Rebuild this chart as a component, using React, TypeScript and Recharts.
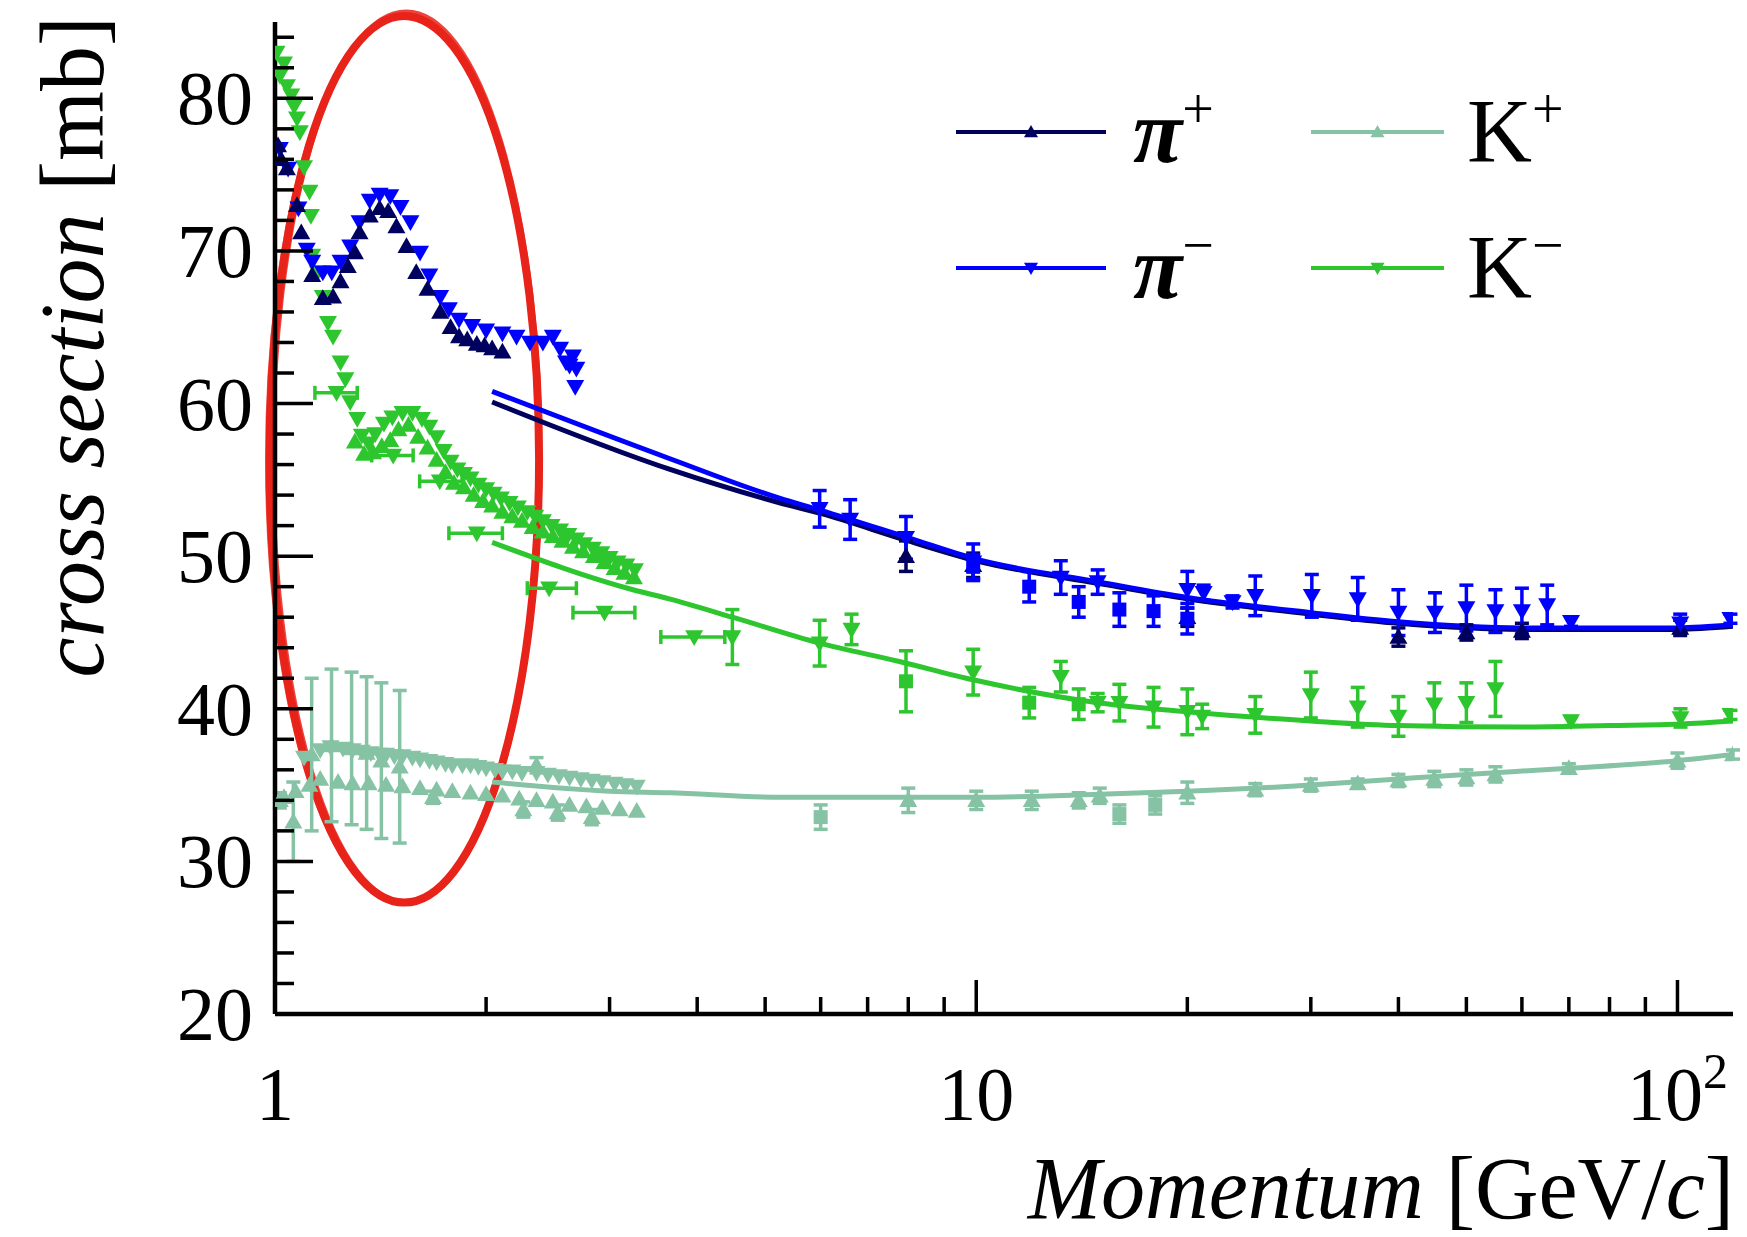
import React from "react";
import {
  ComposedChart,
  Line,
  Scatter,
  ErrorBar,
  XAxis,
  YAxis,
  ReferenceArea,
  Legend,
  Label,
} from "recharts";

const SERIF = '"Liberation Serif", "Times New Roman", serif';

const PI_PLUS = "#00005e";
const PI_MINUS = "#0000ff";
const K_PLUS = "#86c3a5";
const K_MINUS = "#2ec62e";

// axis ticks
const xTicks = [1, 2, 3, 4, 5, 6, 7, 8, 9, 10, 20, 30, 40, 50, 60, 70, 80, 90, 100];
const yTicks = [20, 22, 24, 26, 28, 30, 32, 34, 36, 38, 40, 42, 44, 46, 48, 50, 52, 54, 56, 58, 60, 62, 64, 66, 68, 70, 72, 74, 76, 78, 80, 82, 84];
const xMajor = [1, 10, 100];

// legend
const legendBase = ["π", "π", "K", "K"];
const legendSup = ["+", "−", "+", "−"];

// ---- pi+ ----
const piPlusLow = [
  [1.01, 76.9], [1.02, 76.0], [1.04, 75.4], [1.075, 73.0], [1.09, 71.2], [1.13, 68.4],
  [1.17, 66.9], [1.21, 67.0], [1.24, 68.0], [1.27, 69.0], [1.3, 69.9], [1.32, 71.2],
  [1.365, 72.3], [1.41, 72.8], [1.45, 72.6], [1.49, 71.6], [1.54, 70.3], [1.59, 68.6],
  [1.65, 67.5], [1.72, 66.0], [1.78, 65.0], [1.83, 64.4], [1.88, 64.2], [1.94, 63.9],
  [1.99, 63.8], [2.04, 63.6], [2.11, 63.4],
];
const piPlusHigh = [
  [7.94, 50.0, 1.0], [9.9, 49.4, 0.8], [20.0, 46.0, 0.6], [40.0, 44.7, 0.6],
  [50.0, 45.0, 0.5], [60.0, 45.1, 0.5], [100.9, 45.3, 0.5],
];
const piPlusFit = [
  [2.04, 60.1], [3.65, 55.7], [5.24, 53.5], [6.0, 52.8], [8.0, 51.0], [10.0, 49.7],
  [15.0, 48.2], [20.0, 47.2], [30.0, 46.2], [40.0, 45.6], [60.0, 45.2], [100.0, 45.2], [120.0, 45.4],
];

// ---- pi- ----
const piMinusLow = [
  [1.016, 76.7], [1.044, 75.4], [1.08, 72.8], [1.11, 70.1], [1.13, 69.3], [1.17, 68.6],
  [1.205, 68.6], [1.24, 69.3], [1.28, 70.3], [1.32, 71.9], [1.365, 73.3], [1.41, 73.7],
  [1.46, 73.6], [1.51, 72.9], [1.56, 71.9], [1.61, 69.9], [1.66, 68.4], [1.72, 67.0],
  [1.77, 66.2], [1.83, 65.5], [1.91, 65.1], [2.0, 64.8], [2.11, 64.6], [2.21, 64.4],
  [2.31, 64.0], [2.41, 64.0], [2.49, 64.4], [2.55, 63.6], [2.6, 62.7], [2.63, 62.5],
  [2.66, 63.1], [2.68, 61.1], [2.69, 62.3],
];
const piMinusHigh = [
  [5.98, 53.1, 1.2], [6.61, 52.4, 1.3], [7.94, 51.2, 1.4], [9.9, 49.6, 1.2], [13.2, 48.6, 1.1],
  [14.9, 48.3, 0.8], [20.0, 47.8, 1.2], [21.1, 47.6, 0.5], [23.2, 47.0, 0.4], [25.0, 47.4, 1.3],
  [30.1, 47.4, 1.4], [35.0, 47.2, 1.4], [40.0, 46.3, 1.5], [45.1, 46.3, 1.3], [50.0, 46.6, 1.5],
  [55.0, 46.4, 1.4], [60.0, 46.4, 1.5], [65.2, 46.8, 1.3], [70.5, 45.7, 0.3], [100.9, 45.6, 0.6],
  [119.0, 45.9, 0.3],
];
const piMinusSquares = [
  [9.9, 49.3, 0.8], [11.9, 48.0, 1.0], [14.0, 47.0, 1.0], [16.0, 46.5, 1.1], [17.9, 46.4, 1.0],
  [20.0, 45.9, 1.0],
];
const piMinusFit = [
  [2.04, 60.8], [3.65, 56.4], [5.24, 53.8], [6.0, 53.0], [8.0, 51.2], [10.0, 49.8],
  [15.0, 48.3], [20.0, 47.3], [30.0, 46.3], [40.0, 45.7], [60.0, 45.3], [100.0, 45.3], [120.0, 45.5],
];

// ---- K+ ----
const kPlusUpper = [
  [1.1, 36.8], [1.16, 37.3], [1.2, 37.5], [1.25, 37.4], [1.29, 37.3], [1.33, 37.2], [1.37, 37.1],
  [1.41, 37.0], [1.44, 37.0], [1.48, 36.9], [1.52, 36.9], [1.57, 36.8], [1.61, 36.7], [1.66, 36.6],
  [1.7, 36.5], [1.75, 36.4], [1.79, 36.3], [1.85, 36.3], [1.9, 36.3], [1.95, 36.2], [2.0, 36.1],
  [2.06, 36.0], [2.11, 35.9], [2.18, 35.9], [2.25, 35.8], [2.36, 35.8], [2.45, 35.7], [2.54, 35.6],
  [2.63, 35.5], [2.73, 35.4], [2.83, 35.3], [2.93, 35.2], [3.05, 35.1], [3.16, 35.0], [3.28, 34.9],
];
const kPlusLower = [
  [1.03, 34.2], [1.07, 34.6], [1.12, 35.0], [1.16, 35.4], [1.23, 35.2], [1.29, 35.1], [1.36, 35.1],
  [1.44, 35.0], [1.52, 34.9], [1.61, 34.8], [1.7, 34.7], [1.79, 34.6], [1.9, 34.5], [2.0, 34.4],
  [2.11, 34.3], [2.23, 34.1], [2.36, 34.0], [2.49, 33.9], [2.63, 33.7], [2.78, 33.6], [2.93, 33.5],
  [3.1, 33.4], [3.28, 33.3],
];
const kPlusErr = [
  [1.016, 34.0, 0.5], [1.062, 32.6, 2.6], [1.128, 37.0, 5.0], [1.204, 37.6, 5.0], [1.286, 37.4, 5.0],
  [1.351, 37.1, 5.0], [1.418, 36.6, 5.1], [1.506, 36.2, 5.0], [1.68, 34.2, 0.4], [2.26, 33.4, 0.5],
  [2.36, 36.3, 0.5], [2.53, 33.2, 0.5], [2.83, 32.9, 0.5],
];
const kPlusHigh = [
  [8.0, 34.0, 0.8], [10.0, 34.0, 0.6], [12.0, 34.0, 0.6], [14.0, 34.0, 0.5], [15.0, 34.3, 0.5],
  [20.0, 34.5, 0.7], [25.0, 34.7, 0.4], [30.0, 35.0, 0.4], [35.0, 35.1, 0.3], [40.0, 35.3, 0.4],
  [45.0, 35.4, 0.5], [50.0, 35.5, 0.5], [55.0, 35.7, 0.5], [70.0, 36.1, 0.3], [100.0, 36.6, 0.5],
  [120.0, 37.0, 0.3],
];
const kPlusSquares = [[6.0, 32.9, 0.8], [16.0, 33.1, 0.6], [18.0, 33.7, 0.6]];
const kPlusFit = [
  [2.04, 35.2], [3.0, 34.6], [3.65, 34.5], [5.24, 34.2], [10.0, 34.2], [15.0, 34.4], [20.0, 34.6],
  [30.0, 35.0], [40.0, 35.4], [50.0, 35.7], [70.0, 36.1], [100.0, 36.6], [120.0, 37.0],
];

// ---- K- ----
const kMinusUpper = [
  [1.005, 83.0], [1.016, 81.5], [1.03, 82.3], [1.04, 80.8], [1.055, 80.2], [1.065, 79.5],
  [1.075, 78.7], [1.085, 77.8], [1.1, 75.5], [1.12, 73.9], [1.125, 72.3], [1.13, 69.7],
  [1.15, 68.6], [1.17, 67.0], [1.19, 65.3], [1.21, 64.4], [1.24, 62.7], [1.26, 61.6],
  [1.28, 60.1], [1.31, 59.0], [1.33, 57.9], [1.36, 57.4], [1.39, 58.0], [1.43, 58.7],
  [1.47, 59.1], [1.52, 59.4], [1.57, 59.4], [1.62, 59.0], [1.66, 58.5], [1.7, 57.8],
  [1.74, 56.9], [1.78, 56.2], [1.82, 55.7], [1.86, 55.4], [1.9, 55.1], [1.95, 54.7],
  [2.0, 54.4], [2.05, 54.1], [2.1, 53.8], [2.16, 53.5], [2.22, 53.2], [2.29, 52.9],
  [2.35, 52.6], [2.41, 52.3], [2.48, 52.0], [2.55, 51.7], [2.62, 51.4], [2.69, 51.1],
  [2.76, 50.8], [2.84, 50.5], [2.92, 50.2], [3.0, 49.9], [3.08, 49.6], [3.17, 49.4], [3.26, 49.1],
];
const kMinusLower = [
  [1.3, 57.5], [1.34, 56.7], [1.38, 56.8], [1.42, 57.2], [1.46, 57.6], [1.5, 58.3], [1.55, 58.6],
  [1.6, 57.8], [1.65, 57.1], [1.7, 56.3], [1.75, 55.5], [1.8, 54.8], [1.86, 54.5], [1.92, 54.0],
  [1.98, 53.6], [2.04, 53.3], [2.11, 52.9], [2.18, 52.6], [2.25, 52.3], [2.33, 51.9], [2.41, 51.6],
  [2.49, 51.3], [2.57, 51.0], [2.66, 50.6], [2.75, 50.3], [2.85, 50.0], [2.95, 49.6], [3.05, 49.2],
  [3.15, 48.9], [3.25, 48.6],
];
// points with momentum bins: p, mb, left width, right width
const kMinusBins = [
  [1.224, 60.7, 0.084, 0.086], [1.474, 56.6, 0.1, 0.1], [1.718, 54.9, 0.11, 0.13],
  [1.94, 51.5, 0.17, 0.17], [2.46, 47.9, 0.17, 0.23], [2.95, 46.3, 0.29, 0.31], [3.96, 44.7, 0.41, 0.42],
];
const kMinusHigh = [
  [4.49, 44.7, 1.8], [5.98, 44.3, 1.5], [6.64, 45.2, 1.0], [9.9, 42.4, 1.5], [13.2, 42.1, 1.0],
  [14.9, 40.4, 0.6], [16.0, 40.4, 1.2], [17.9, 40.1, 1.3], [20.0, 39.8, 1.5], [21.0, 39.5, 0.8],
  [25.0, 39.6, 1.2], [30.0, 40.9, 1.5], [35.0, 40.1, 1.3], [40.0, 39.5, 1.3], [45.0, 40.3, 1.4],
  [50.0, 40.4, 1.3], [55.0, 41.3, 1.8], [70.5, 39.2, 0.3], [101.0, 39.4, 0.6], [119.0, 39.6, 0.3],
];
const kMinusSquares = [[7.94, 41.8, 2.0], [11.9, 40.4, 1.0], [14.0, 40.3, 1.0]];
const kMinusFit = [
  [2.04, 50.9], [3.24, 47.8], [3.65, 47.2], [4.49, 46.0], [5.98, 44.3], [7.77, 43.1], [9.9, 41.9],
  [14.9, 40.4], [20.0, 39.8], [30.0, 39.2], [40.0, 38.9], [60.0, 38.8], [80.0, 38.9], [101.0, 39.0],
  [120.0, 39.2],
];

// highlighted region (hand-drawn ring)
const ringP = [0.982, 2.38];
const ringMb = [27.3, 85.4];

const pts = (rows: number[][]) => rows.map((r) => ({ p: r[0], y: r[1], e: r[2] }));
const binPts = (rows: number[][]) => rows.map((r) => ({ p: r[0], y: r[1], ex: [r[2], r[3]] }));

const Tri = (color: string, up: boolean, s = 9) => (props: any) => {
  const { cx, cy } = props;
  if (cx == null || cy == null) return null;
  const pts = up
    ? `${cx},${cy - s} ${cx - s},${cy + s * 0.75} ${cx + s},${cy + s * 0.75}`
    : `${cx},${cy + s} ${cx - s},${cy - s * 0.75} ${cx + s},${cy - s * 0.75}`;
  return <polygon points={pts} fill={color} />;
};
const Sq = (color: string, s = 7) => (props: any) => {
  const { cx, cy } = props;
  if (cx == null || cy == null) return null;
  return <rect x={cx - s} y={cy - s} width={2 * s} height={2 * s} fill={color} />;
};

const LeftTick = (props: any) => {
  const { x, y, payload } = props;
  const v = payload.value;
  const major = v % 10 === 0;
  return (
    <g>
      <line x1={x} x2={x + (major ? 38 : 19)} y1={y} y2={y} stroke="#000" strokeWidth={3.5} />
      {major && (
        <text x={x - 22} y={y + 26} textAnchor="end" fontFamily={SERIF} fontSize={76} fill="#000">
          {v}
        </text>
      )}
    </g>
  );
};
const RightTick = (props: any) => {
  const { x, y, payload } = props;
  const major = payload.value % 10 === 0;
  return <line x1={x} x2={x - (major ? 38 : 19)} y1={y} y2={y} stroke="#000" strokeWidth={3.5} />;
};
const BottomTick = (props: any) => {
  const { x, y, payload } = props;
  const v = payload.value;
  const major = xMajor.includes(v);
  return (
    <g>
      <line x1={x} x2={x} y1={y} y2={y - (major ? 34 : 17)} stroke="#000" strokeWidth={3.5} />
      {major && (
        <text x={x} y={y + 106} textAnchor="middle" fontFamily={SERIF} fontSize={76} fill="#000">
          {v === 100 ? (
            <>
              10
              <tspan fontSize={50} dy={-32}>2</tspan>
            </>
          ) : (
            v
          )}
        </text>
      )}
    </g>
  );
};
const TopTick = (props: any) => {
  const { x, y, payload } = props;
  const major = xMajor.includes(payload.value);
  return <line x1={x} x2={x} y1={y} y2={y + (major ? 34 : 17)} stroke="#000" strokeWidth={3.5} />;
};

const XTitle = (props: any) => {
  const vb = props.viewBox;
  return (
    <text x={vb.x + vb.width + 1} y={vb.y + 204} textAnchor="end" fontFamily={SERIF} fontSize={88} fill="#000">
      <tspan fontStyle="italic">Momentum</tspan>
      <tspan> [GeV/</tspan>
      <tspan fontStyle="italic">c</tspan>
      <tspan>]</tspan>
    </text>
  );
};
const YTitle = (props: any) => {
  const vb = props.viewBox;
  const x = vb.x + 28;
  const y = vb.y - 6;
  return (
    <text x={x} y={y} transform={`rotate(-90 ${x} ${y})`} textAnchor="end" fontFamily={SERIF} fontSize={90} fill="#000">
      <tspan fontStyle="italic">cross section</tspan>
      <tspan> [mb]</tspan>
    </text>
  );
};

const legendColors = [PI_PLUS, PI_MINUS, K_PLUS, K_MINUS];
const LegendBox = () => {
  const colX = [956, 1311];
  const lineLen = [150, 133];
  const textX = [1133, 1467];
  const rowY = [132, 268];
  return (
    <svg width={1747} height={330} style={{ display: "block" }}>
      {legendBase.map((b, i) => {
        const c = Math.floor(i / 2);
        const r = i % 2;
        const y = rowY[r];
        const x0 = colX[c];
        const mid = x0 + lineLen[c] / 2;
        const up = r === 0;
        const s = 7;
        const tri = up
          ? `${mid},${y - s} ${mid - s},${y + s * 0.75} ${mid + s},${y + s * 0.75}`
          : `${mid},${y + s} ${mid - s},${y - s * 0.75} ${mid + s},${y - s * 0.75}`;
        return (
          <g key={i}>
            <line x1={x0} x2={x0 + lineLen[c]} y1={y} y2={y} stroke={legendColors[i]} strokeWidth={4} />
            <polygon points={tri} fill={legendColors[i]} />
            <text
              x={textX[c]}
              y={y + 30}
              fontFamily={SERIF}
              fontSize={90}
              fill="#000"
              fontStyle={b === "π" ? "italic" : "normal"}
              fontWeight={b === "π" ? 700 : 400}
            >
              {b}
              <tspan fontSize={56} dy={-34} fontStyle="normal" fontWeight={400}>{legendSup[i]}</tspan>
            </text>
          </g>
        );
      })}
    </svg>
  );
};

const RedRing = (props: any) => {
  const { x, y, width, height } = props;
  const cx = x + width / 2;
  const cy = y + height / 2;
  return (
    <g fill="none" stroke="#e8231a">
      <ellipse cx={cx} cy={cy} rx={width / 2} ry={height / 2} strokeWidth={8} />
      <ellipse cx={cx + 2} cy={cy - 2} rx={width / 2 - 1} ry={height / 2 + 2} strokeWidth={5} opacity={0.85} />
      <ellipse cx={cx - 2} cy={cy + 1} rx={width / 2 + 1} ry={height / 2 - 1} strokeWidth={3} opacity={0.7} />
    </g>
  );
};

const errProps = { strokeWidth: 3.5, width: 7 };

const App: React.FC = () => {
  return (
    <div style={{ position: "absolute", left: 0, top: 0, width: 1747, height: 1237, background: "#fff", overflow: "hidden" }}>
      <ComposedChart width={1747} height={1237} margin={{ top: 22, right: 14, bottom: 23, left: 75 }}>
        <XAxis
          dataKey="p"
          type="number"
          scale="log"
          domain={[1, 120]}
          allowDataOverflow
          ticks={xTicks}
          interval={0}
          tickSize={0}
          tickMargin={0}
          tickLine={false}
          tick={<BottomTick />}
          axisLine={{ stroke: "#000", strokeWidth: 4.5 }}
          height={200}
        >
          <Label content={<XTitle />} />
        </XAxis>
        <XAxis
          xAxisId="top"
          orientation="top"
          type="number"
          scale="log"
          domain={[1, 120]}
          allowDataOverflow
          ticks={xTicks}
          interval={0}
          tickSize={0}
          tickMargin={0}
          tickLine={false}
          tick={<TopTick />}
          axisLine={{ stroke: "#000", strokeWidth: 4 }}
          height={0}
        />
        <YAxis
          type="number"
          domain={[20, 85]}
          allowDataOverflow
          ticks={yTicks}
          interval={0}
          tickSize={0}
          tickMargin={0}
          tickLine={false}
          tick={<LeftTick />}
          axisLine={{ stroke: "#000", strokeWidth: 4.5 }}
          width={200}
        >
          <Label content={<YTitle />} />
        </YAxis>
        <YAxis
          yAxisId="right"
          orientation="right"
          type="number"
          domain={[20, 85]}
          allowDataOverflow
          ticks={yTicks}
          interval={0}
          tickSize={0}
          tickMargin={0}
          tickLine={false}
          tick={<RightTick />}
          axisLine={{ stroke: "#000", strokeWidth: 4 }}
          width={0}
        />

        {/* K+ */}
        <Line data={pts(kPlusFit)} dataKey="y" type="monotone" stroke={K_PLUS} strokeWidth={5} dot={false} isAnimationActive={false} />
        <Scatter data={pts(kPlusLower)} dataKey="y" shape={Tri(K_PLUS, true)} isAnimationActive={false} />
        <Scatter data={pts(kPlusUpper)} dataKey="y" shape={Tri(K_PLUS, false)} isAnimationActive={false} />
        <Scatter data={pts(kPlusErr)} dataKey="y" shape={Tri(K_PLUS, true)} isAnimationActive={false}>
          <ErrorBar dataKey="e" direction="y" stroke={K_PLUS} {...errProps} />
        </Scatter>
        <Scatter data={pts(kPlusHigh)} dataKey="y" shape={Tri(K_PLUS, true)} isAnimationActive={false}>
          <ErrorBar dataKey="e" direction="y" stroke={K_PLUS} {...errProps} />
        </Scatter>
        <Scatter data={pts(kPlusSquares)} dataKey="y" shape={Sq(K_PLUS)} isAnimationActive={false}>
          <ErrorBar dataKey="e" direction="y" stroke={K_PLUS} {...errProps} />
        </Scatter>

        {/* K- */}
        <Line data={pts(kMinusFit)} dataKey="y" type="monotone" stroke={K_MINUS} strokeWidth={5} dot={false} isAnimationActive={false} />
        <Scatter data={pts(kMinusLower)} dataKey="y" shape={Tri(K_MINUS, true)} isAnimationActive={false} />
        <Scatter data={pts(kMinusUpper)} dataKey="y" shape={Tri(K_MINUS, false)} isAnimationActive={false} />
        <Scatter data={binPts(kMinusBins)} dataKey="y" shape={Tri(K_MINUS, false)} isAnimationActive={false}>
          <ErrorBar dataKey="ex" direction="x" stroke={K_MINUS} {...errProps} />
        </Scatter>
        <Scatter data={pts(kMinusHigh)} dataKey="y" shape={Tri(K_MINUS, false)} isAnimationActive={false}>
          <ErrorBar dataKey="e" direction="y" stroke={K_MINUS} {...errProps} />
        </Scatter>
        <Scatter data={pts(kMinusSquares)} dataKey="y" shape={Sq(K_MINUS)} isAnimationActive={false}>
          <ErrorBar dataKey="e" direction="y" stroke={K_MINUS} {...errProps} />
        </Scatter>

        {/* pi+ / pi- */}
        <Line data={pts(piPlusFit)} dataKey="y" type="monotone" stroke={PI_PLUS} strokeWidth={5} dot={false} isAnimationActive={false} />
        <Line data={pts(piMinusFit)} dataKey="y" type="monotone" stroke={PI_MINUS} strokeWidth={5} dot={false} isAnimationActive={false} />
        <Scatter data={pts(piMinusLow)} dataKey="y" shape={Tri(PI_MINUS, false)} isAnimationActive={false} />
        <Scatter data={pts(piPlusLow)} dataKey="y" shape={Tri(PI_PLUS, true)} isAnimationActive={false} />
        <Scatter data={pts(piPlusHigh)} dataKey="y" shape={Tri(PI_PLUS, true)} isAnimationActive={false}>
          <ErrorBar dataKey="e" direction="y" stroke={PI_PLUS} {...errProps} />
        </Scatter>
        <Scatter data={pts(piMinusHigh)} dataKey="y" shape={Tri(PI_MINUS, false)} isAnimationActive={false}>
          <ErrorBar dataKey="e" direction="y" stroke={PI_MINUS} {...errProps} />
        </Scatter>
        <Scatter data={pts(piMinusSquares)} dataKey="y" shape={Sq(PI_MINUS)} isAnimationActive={false}>
          <ErrorBar dataKey="e" direction="y" stroke={PI_MINUS} {...errProps} />
        </Scatter>

        <ReferenceArea
          x1={ringP[0]}
          x2={ringP[1]}
          y1={ringMb[0]}
          y2={ringMb[1]}
          ifOverflow="visible"
          shape={<RedRing />}
        />

        <Legend
          content={<LegendBox />}
          layout="horizontal"
          verticalAlign="middle"
          align="center"
          wrapperStyle={{ left: 0, top: 0, width: 1747, height: 330, pointerEvents: "none" }}
        />
      </ComposedChart>
    </div>
  );
};

export default App;
